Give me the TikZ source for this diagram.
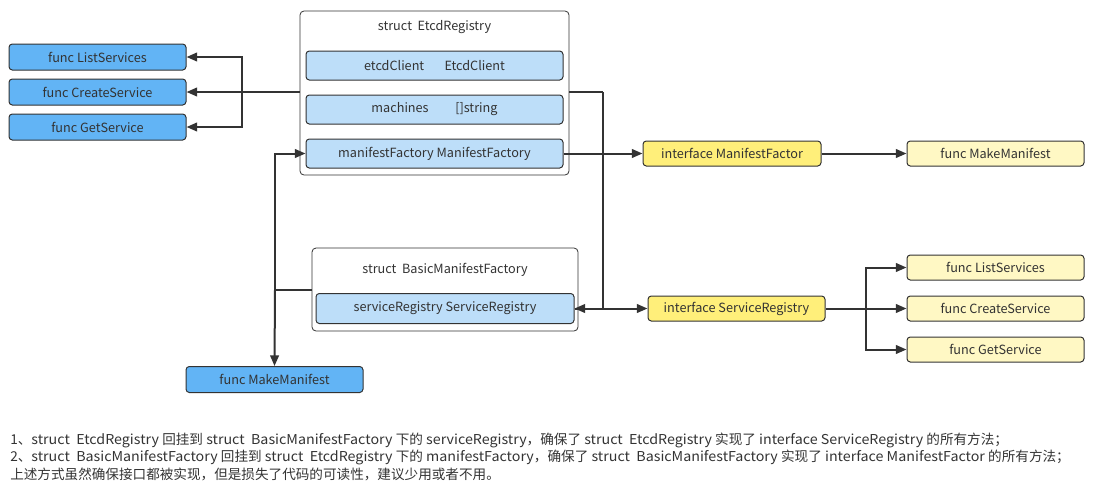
\documentclass[tikz,border=0pt]{standalone}
\usepackage{fontspec}
\setmainfont{Noto Sans CJK SC}
\newfontfamily\latwide[FakeStretch=1.05]{Noto Sans CJK SC}
\newcommand{\Lw}[1]{{\latwide #1}}
\usetikzlibrary{arrows.meta,calc}
\definecolor{fblue}{RGB}{98,180,245}
\definecolor{lblue}{RGB}{189,222,249}
\definecolor{iyellow}{RGB}{255,239,122}
\definecolor{lyellow}{RGB}{255,248,196}
\definecolor{edge}{RGB}{51,51,51}
\definecolor{txt}{RGB}{51,51,51}
\tikzset{
  box/.style={draw=edge, line width=0.75pt, rounded corners=2.5pt, inner sep=0pt, font=\fontsize{9.5}{11}\selectfont, text=txt},
  fb/.style={box, fill=fblue, minimum width=132.75pt, minimum height=19.5pt},
  field/.style={box, fill=lblue, minimum width=192.75pt, minimum height=21.75pt},
  iy/.style={box, fill=iyellow, minimum width=133.5pt, minimum height=18.75pt},
  ly/.style={box, fill=lyellow, minimum width=132.75pt, minimum height=18.75pt},
  outer/.style={draw=edge, line width=0.6pt, rounded corners=3pt, fill=white},
  arr/.style={draw=edge, line width=1.5pt, -{Triangle[length=8pt,width=6.5pt]}},
  ln/.style={draw=edge, line width=1.5pt},
  lbl/.style={font=\fontsize{9.5}{11}\selectfont, text=txt, inner sep=0pt},
  note/.style={font=\fontsize{10.2}{12}\selectfont, text=txt, inner sep=0pt, anchor=west},
}
\begin{document}
\begin{tikzpicture}[x=0.75pt,y=-0.75pt]
\useasboundingbox (0,0) rectangle (1096,490);
% outer containers
\node[outer, minimum width=201.75pt, minimum height=123pt, inner sep=0pt] (etcd) at (434.5,93) {};
\node[lbl] (etcdT) at (434.5,27) {struct\ \ EtcdRegistry};
\node[field] (ec) at (434.5,65.5) {etcdClient\hspace{1.6em}EtcdClient};
\node[field] (ma) at (434.5,109.5) {machines\hspace{2.1em}[]string};
\node[field] (mf) at (434.5,153.5) {manifestFactory ManifestFactory};

\node[outer, minimum width=199.5pt, minimum height=62.25pt, inner sep=0pt] (basic) at (445,289.5) {};
\node[lbl] (basicT) at (445,270) {struct\ \ BasicManifestFactory};
\node[box, fill=lblue, minimum width=193.5pt, minimum height=22.5pt] (sr) at (445,308.5) {serviceRegistry ServiceRegistry};

% left funcs
\node[fb] (ls) at (97.5,57) {func ListServices};
\node[fb] (cs) at (97.5,92) {func CreateService};
\node[fb] (gs) at (97.5,127) {func GetService};
\node[fb] (mm) at (274.5,379.5) {func MakeManifest};

% interfaces
\node[iy] (imf) at (732,153.5) {interface ManifestFactor};
\node[ly] (fmm) at (995.5,153.5) {func MakeManifest};
\node[iy, minimum width=132.75pt] (isr) at (736.5,308.5) {interface ServiceRegistry};
\node[ly] (rls) at (995.5,267.5) {func ListServices};
\node[ly] (rcs) at (995.5,308.5) {func CreateService};
\node[ly] (rgs) at (995.5,349.5) {func GetService};

% coordinates
\coordinate (bl) at (242,92);
\coordinate (vr) at (603,92);
\coordinate (bm) at (275,290);
\coordinate (br) at (866,308.5);

% connectors
\draw[arr] (etcd.west |- cs) -- (cs.east);
\draw[arr] (bl) |- (ls.east);
\draw[arr] (bl) |- (gs.east);
\draw[ln] (etcd.east |- vr) -- (vr);
\draw[arr] (vr) -- (vr |- sr) -- (sr.east);
\draw[arr] (sr.east) -- (isr.west);
\draw[arr] (mf.east) -- (imf.west);
\draw[arr] (imf.east) -- (fmm.west);
\draw[arr] (basic.west |- bm) -- (bm) -- (bm |- mf) -- (mf.west);
\draw[arr] (bm) -- (mm.north);
\draw[arr] (isr.east) -- (rcs.west);
\draw[arr] (br) |- (rls.west);
\draw[arr] (br) |- (rgs.west);

% notes
\node[note] (n1) at (10,440) {1、\Lw{struct\ \ EtcdRegistry }回挂到\Lw{ struct\ \ BasicManifestFactory }下的\Lw{ serviceRegistry}，确保了\Lw{ struct\ \ EtcdRegistry }实现了\Lw{ interface ServiceRegistry }的所有方法；};
\node[note] (n2) at (10,457) {2、\Lw{struct\ \ BasicManifestFactory }回挂到\Lw{ struct\ \ EtcdRegistry }下的\Lw{ manifestFactory}，确保了\Lw{ struct\ \ BasicManifestFactory }实现了\Lw{ interface ManifestFactor }的所有方法；};
\node[note] (n3) at (10,474) {上述方式虽然确保接口都被实现，但是损失了代码的可读性，建议少用或者不用。};
\end{tikzpicture}
\end{document}
